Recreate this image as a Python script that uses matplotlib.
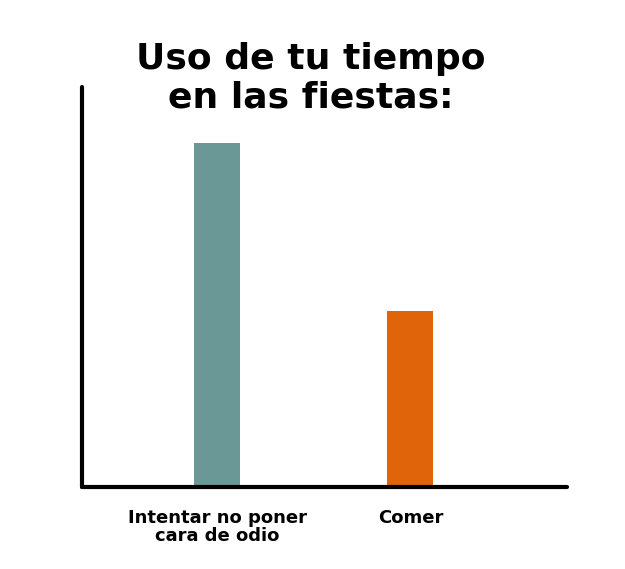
import matplotlib
matplotlib.use("Agg")
import matplotlib.pyplot as plt

categories = ["Intentar no poner\ncara de odio", "Comer"]
values = [86, 44]
colors = ["#6a9896", "#e0650a"]
title = "Uso de tu tiempo\nen las fiestas:"

fig = plt.figure(figsize=(6.25, 5.69), dpi=100)
W, H = 625, 569
ax = fig.add_axes([82 / W, (H - 487) / H, (567 - 82) / W, (487 - 87) / H])
x = list(range(len(categories)))
ax.bar(x, values, width=0.238, color=colors, zorder=1)
ax.set_xlim(-0.70, 1.81)
ax.set_ylim(0, 100)
for s in ["top", "right"]:
    ax.spines[s].set_visible(False)
for s in ["left", "bottom"]:
    ax.spines[s].set_linewidth(3)
    ax.spines[s].set_capstyle("round")
ax.set_yticks([])
ax.set_xticks(x)
ax.set_xticklabels(categories, fontsize=13, fontweight="bold", family="DejaVu Sans",
                   linespacing=1.0)
ax.tick_params(axis="x", length=0, pad=16)
fig.text(311 / W, 1 - 78 / H, title, ha="center", va="center", fontsize=26,
         fontweight="bold", family="DejaVu Sans", linespacing=1.15)
fig.savefig("out.png", dpi=100)
